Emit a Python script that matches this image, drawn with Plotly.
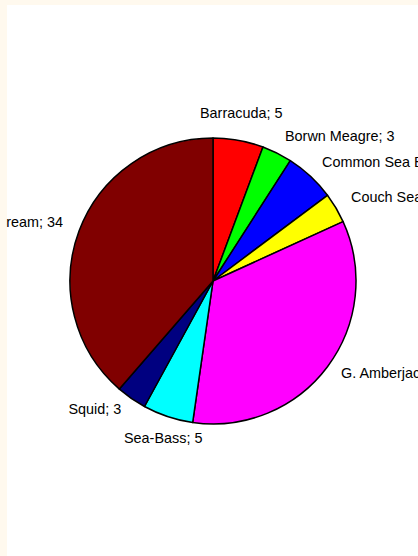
import math
import plotly.graph_objects as go

labels = ["Barracuda", "Borwn Meagre", "Common Sea Bream", "Couch Sea Bream",
          "G. Amberjack", "Sea-Bass", "Squid", "Gilthead Sea Bream"]
values = [5, 3, 5, 3, 30, 5, 3, 34]
colors = ["#FF0000", "#00FF00", "#0000FF", "#FFFF00",
          "#FF00FF", "#00FFFF", "#000080", "#800000"]

W, H = 418, 556
BG = "#FFF9EE"
cx, cy, r = 213, 281, 143   # pie centre / radius in pixels
rl = 159                      # radius at which labels are anchored
edge = 7                      # width of the cream strip on the left

font = dict(family="Liberation Sans, Arial, sans-serif", size=14.4, color="black")

fig = go.Figure(go.Pie(
    labels=labels, values=values, sort=False, direction="clockwise", rotation=0,
    marker=dict(colors=colors, line=dict(color="black", width=1.5)),
    textinfo="none", showlegend=False, hoverinfo="skip",
    domain=dict(x=[(cx - r) / W, (cx + r) / W],
                y=[1 - (cy + r) / H, 1 - (cy - r) / H]),
))

# slice labels placed at each slice's mid angle (derived from the values)
total = sum(values)
annotations = []
cum = 0
for lab, v in zip(labels, values):
    ang = math.radians((cum + v / 2) / total * 360)
    cum += v
    s, c = math.sin(ang), math.cos(ang)
    px, py = cx + rl * s, cy - rl * c
    extra = {}
    if abs(s) < 0.35:
        xa = "center"
        ya = "bottom" if c > 0 else "top"
    else:
        xa = "left" if s > 0 else "right"
        ya = "middle"
        if s < 0:
            extra = dict(width=px - edge, align="right")
    annotations.append(dict(
        text=f"{lab}; {v}", x=px / W, y=1 - py / H, xref="paper", yref="paper",
        xanchor=xa, yanchor=ya, yshift=3, showarrow=False, font=font, borderpad=0,
        **extra,
    ))

fig.update_layout(
    width=W, height=H,
    margin=dict(l=0, t=0, r=0, b=0, autoexpand=False),
    paper_bgcolor="white",
    annotations=annotations,
    shapes=[
        dict(type="rect", xref="paper", yref="paper", x0=0, x1=edge / W, y0=0, y1=1,
             fillcolor=BG, line=dict(width=0), layer="above"),
        dict(type="rect", xref="paper", yref="paper", x0=0, x1=1, y0=1 - 5 / H, y1=1,
             fillcolor=BG, line=dict(width=0), layer="above"),
    ],
)
fig.write_html(
    "out.html",
    config=dict(displayModeBar=False),
    post_script="document.body.style.margin='0';document.body.style.background='%s';"
                "document.body.style.overflow='hidden';" % BG,
)
